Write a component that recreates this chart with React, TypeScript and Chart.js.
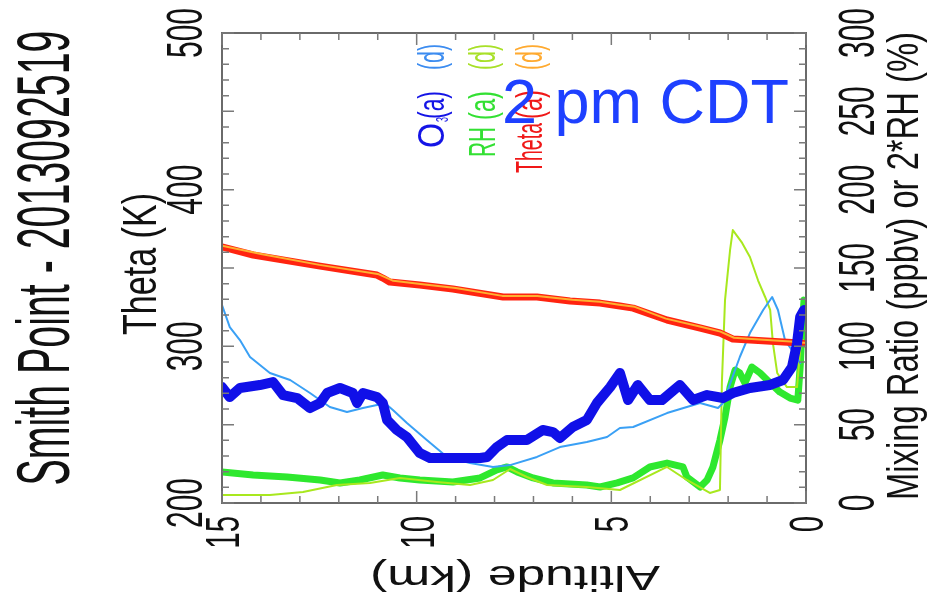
import React, { useEffect, useRef } from "react";
import { Chart, registerables } from "chart.js";

Chart.register(...registerables);

// ---- Data (altitude in km, values) ----
const THETA_A_ALT = [15, 14.2, 12.48, 11.02, 10.87, 10.69, 9.92, 9.07, 7.78, 6.91, 6.06, 5.29, 4.78, 4.44, 3.57, 2.72, 2.21, 1.88, 1.44, 0.15, 0];
const THETA_A_VAL = [363.4, 358.3, 351.2, 345.5, 343.6, 341.0, 339.1, 336.6, 331.5, 331.5, 328.9, 327.6, 325.7, 324.4, 316.8, 311.7, 308.5, 304.7, 304.0, 302.1, 301.5];

const THETA_D_ALT = [15, 14.0, 12.5, 11.0, 10.8, 10.6, 9.9, 9.0, 7.8, 6.9, 6.0, 5.3, 4.8, 4.4, 3.6, 2.7, 2.2, 1.85, 1.4, 0.2, 0];
const THETA_D_VAL = [364.2, 359.0, 352.0, 346.2, 344.0, 341.8, 339.8, 337.2, 332.2, 332.2, 329.7, 328.4, 326.5, 325.2, 317.7, 312.5, 309.4, 305.5, 304.7, 302.8, 302.2];

const O3_A_ALT = [15, 14.8, 14.54, 14.03, 13.69, 13.43, 13.07, 12.74, 12.48, 12.3, 11.97, 11.64, 11.53, 11.38, 11.02, 10.87, 10.76, 10.51, 10.25, 9.92, 9.66, 9.07, 8.37, 8.19, 7.94, 7.68, 7.17, 6.76, 6.5, 6.32, 5.99, 5.63, 5.37, 5.03, 4.78, 4.57, 4.32, 4.01, 3.7, 3.24, 2.9, 2.54, 2.13, 1.88, 1.44, 0.93, 0.59, 0.36, 0.23, 0.15, 0.05];
const O3_A_VAL = [74, 67.6, 73.4, 75.3, 77.2, 68.9, 67, 60.6, 63.8, 70.2, 73.4, 70.2, 63.8, 70.2, 67.6, 63.8, 53, 46.6, 42.1, 31.9, 28.7, 28.7, 28.7, 29.4, 35.7, 40.2, 40.2, 46.6, 45.3, 41.5, 48.5, 53, 63.8, 74, 83, 65.7, 75.3, 65.7, 65.7, 75.3, 65.7, 68.9, 67, 70.2, 73.4, 75.3, 78.5, 86.8, 102, 118.7, 123.2];

const O3_D_ALT = [15, 14.8, 14.54, 14.28, 13.77, 13.25, 12.74, 12.23, 11.79, 11.38, 11.02, 10.76, 10.61, 10.25, 9.74, 9.22, 8.63, 8.04, 7.6, 6.91, 6.32, 5.63, 5.11, 4.78, 4.44, 3.57, 2.72, 2.26, 2.13, 1.7, 1.44, 1.1, 0.87, 0.72, 0.54, 0.36, 0.15];
const O3_D_VAL = [126.4, 112.3, 104, 93.2, 83, 78.5, 70.2, 61.3, 58.1, 60.6, 62.5, 62.5, 59.3, 51.1, 40.2, 29.4, 25.5, 23, 24.2, 29.4, 35.7, 38.9, 42.1, 47.9, 48.5, 57.4, 63.8, 60.6, 63.8, 93.2, 108.5, 123.2, 131.5, 123.2, 104, 97.6, 89.3];

const RH_A_ALT = [15, 14.2, 13.33, 12.48, 11.97, 11.46, 10.87, 10.43, 9.92, 9.07, 8.37, 7.94, 7.68, 7.42, 7.01, 6.5, 5.63, 5.29, 4.85, 4.44, 4.01, 3.57, 3.16, 3.06, 2.72, 2.54, 2.39, 2.21, 2.08, 1.95, 1.82, 1.7, 1.57, 1.39, 1.18, 0.92, 0.67, 0.41, 0.21, 0.15, 0.1, 0.05];
const RH_A_VAL = [19.8, 17.9, 16.6, 14.7, 12.8, 14.7, 17.9, 16, 14.7, 13.4, 16, 21.1, 23, 19.8, 16, 12.8, 11.5, 10.2, 12.8, 16, 23, 25.5, 23, 16.6, 10.2, 14.7, 23, 40.2, 54.9, 74, 84.9, 83, 76.6, 86.8, 83, 76.6, 70.8, 67, 65.7, 86.8, 112.3, 129.5];

const RH_D_ALT = [15, 13.77, 12.92, 12.05, 11.2, 10.43, 9.48, 8.63, 8.04, 7.6, 7.17, 6.65, 5.63, 4.78, 3.57, 3.06, 2.47, 2.21, 2.16, 2.08, 2.03, 1.95, 1.88, 1.64, 1.44, 1.23, 1.05, 0.92, 0.85, 0.74, 0.49, 0.23, 0.15, 0.08];
const RH_D_VAL = [5.1, 5.1, 7, 11.5, 12.8, 16, 13.4, 11.5, 14.7, 21.7, 16.6, 11.5, 10.2, 8.3, 23, 14.7, 6.4, 8.3, 77, 129.5, 142, 161.5, 174.2, 166, 157, 142, 131.5, 123.2, 102, 83, 74, 74, 97.6, 104];

const ALT_TICKS = [15, 10, 5, 0];
const THETA_TICKS = [200, 300, 400, 500];
const MIX_TICKS = [0, 50, 100, 150, 200, 250, 300];

const TITLE = "Smith Point - 2013092519";
const THETA_TITLE = "Theta (K)";
const MIX_TITLE = "Mixing Ratio (ppbv) or 2*RH (%)";
const ALT_TITLE = "Altitude (km)";
const TIME_LABEL = "2 pm CDT";

const FONT = "'Liberation Sans', Arial, Helvetica, sans-serif";

function pts(xs: number[], ys: number[]) {
  return xs.map((x, i) => ({ x, y: ys[i] }));
}

function drawText(
  ctx: CanvasRenderingContext2D,
  s: string,
  x: number,
  y: number,
  angle: number,
  px: number,
  color: string,
  len: number | null,
  align: CanvasTextAlign = "center",
  sxFixed: number | null = null
) {
  ctx.save();
  ctx.font = `${px}px ${FONT}`;
  const w = ctx.measureText(s).width;
  const sx = sxFixed != null ? sxFixed : len != null ? len / w : 1;
  ctx.translate(x, y);
  ctx.rotate(angle);
  ctx.scale(sx, 1);
  ctx.fillStyle = color;
  ctx.textAlign = align;
  ctx.textBaseline = "alphabetic";
  ctx.fillText(s, 0, 0);
  ctx.restore();
}

const decorPlugin = {
  id: "decor",
  beforeDraw(chart: any) {
    const ctx = chart.ctx;
    ctx.save();
    ctx.fillStyle = "#ffffff";
    ctx.fillRect(0, 0, chart.width, chart.height);
    ctx.restore();
  },
  afterDraw(chart: any) {
    const ctx: CanvasRenderingContext2D = chart.ctx;
    const { left, right, top, bottom } = chart.chartArea;
    const xs = chart.scales.x;
    const ys = chart.scales.y;
    const y2 = chart.scales.y2;
    const UP = -Math.PI / 2;

    // frame
    ctx.save();
    ctx.strokeStyle = "#6a6a6a";
    ctx.lineWidth = 2;
    ctx.strokeRect(left, top, right - left, bottom - top);

    // ticks
    ctx.strokeStyle = "#7a7a7a";
    ctx.lineWidth = 1.5;
    for (let k = 0; k <= 15; k++) {
      const px = xs.getPixelForValue(k);
      const L = k % 5 === 0 ? 12 : 7;
      ctx.beginPath();
      ctx.moveTo(px, bottom);
      ctx.lineTo(px, bottom - L);
      ctx.moveTo(px, top);
      ctx.lineTo(px, top + L);
      ctx.stroke();
    }
    for (let v = 0; v <= 300; v += 10) {
      const py = y2.getPixelForValue(v);
      const L = v % 50 === 0 ? 12 : 7;
      ctx.beginPath();
      ctx.moveTo(left, py);
      ctx.lineTo(left + L, py);
      ctx.moveTo(right, py);
      ctx.lineTo(right - L, py);
      ctx.stroke();
    }
    ctx.restore();

    const numSx = 0.6;
    // left tick labels (theta)
    THETA_TICKS.forEach((t) => {
      drawText(ctx, String(t), 202, ys.getPixelForValue(t), UP, 50, "#111", null, "center", numSx);
    });
    // right tick labels (mixing ratio)
    MIX_TICKS.forEach((t) => {
      drawText(ctx, String(t), 874, y2.getPixelForValue(t), UP, 50, "#111", null, "center", numSx);
    });
    // bottom tick labels (altitude)
    ALT_TICKS.forEach((t) => {
      drawText(ctx, String(t), xs.getPixelForValue(t) + 17, 516, UP, 49, "#111", null, "right", numSx);
    });

    // axis titles
    drawText(ctx, THETA_TITLE, 156, 264, UP, 49, "#111", 142);
    drawText(ctx, MIX_TITLE, 918, 266, UP, 44, "#111", 468);
    drawText(ctx, ALT_TITLE, 515, 566, Math.PI, 35, "#111", 290);
    drawText(ctx, TITLE, 69, 258, UP, 74, "#111", 455);

    // legend columns (rotated)
    const legend: [string, string, number, number, number, number][] = [
      // text, color, baselineX, yBottom, yTop, px
      ["O", "#1414e6", 444, 148, 123, 37],
      ["(a)", "#1414e6", 444, 119, 91, 37],
      ["(d)", "#3c8cf0", 444, 70, 44, 37],
      ["RH", "#33e033", 495, 157, 127, 37],
      ["(a)", "#33e033", 495, 120, 91, 37],
      ["(d)", "#a8e028", 495, 70, 44, 37],
      ["Theta", "#f01818", 542, 173, 123, 37],
      ["(a)", "#f01818", 542, 119, 90, 37],
      ["(d)", "#ffaa30", 542, 70, 44, 37],
    ];
    legend.forEach(([s, c, bx, yb, yt, px]) => {
      drawText(ctx, s, bx, yb, UP, px, c, yb - yt, "left");
    });
    drawText(ctx, "3", 448, 122, UP, 16, "#1414e6", 5, "left");

    // time label
    ctx.save();
    ctx.font = `63px ${FONT}`;
    ctx.fillStyle = "#1e40ff";
    ctx.textAlign = "left";
    ctx.textBaseline = "alphabetic";
    ctx.fillText(TIME_LABEL, 502, 123);
    ctx.restore();
  },
};

export default function App() {
  const ref = useRef<HTMLCanvasElement>(null);
  useEffect(() => {
    if (!ref.current) return;
    const chart = new Chart(ref.current, {
      type: "line",
      data: {
        datasets: [
          { label: "O3 (a)", data: pts(O3_A_ALT, O3_A_VAL), yAxisID: "y2", borderColor: "#1010e8", borderWidth: 10, order: 1 },
          { label: "Theta (d)", data: pts(THETA_D_ALT, THETA_D_VAL), yAxisID: "y", borderColor: "#ffb030", borderWidth: 2, order: 2 },
          { label: "Theta (a)", data: pts(THETA_A_ALT, THETA_A_VAL), yAxisID: "y", borderColor: "#ff2410", borderWidth: 7, order: 3 },
          { label: "O3 (d)", data: pts(O3_D_ALT, O3_D_VAL), yAxisID: "y2", borderColor: "#3aa0f5", borderWidth: 2, order: 4 },
          { label: "RH (d)", data: pts(RH_D_ALT, RH_D_VAL), yAxisID: "y2", borderColor: "#a8e81e", borderWidth: 2, order: 5 },
          { label: "RH (a)", data: pts(RH_A_ALT, RH_A_VAL), yAxisID: "y2", borderColor: "#2ee82e", borderWidth: 7, order: 6 },
        ].map((d) => ({ ...d, pointRadius: 0, tension: 0, fill: false, borderJoinStyle: "round" as const, borderCapStyle: "round" as const })),
      },
      options: {
        responsive: false,
        animation: false,
        maintainAspectRatio: false,
        layout: { padding: { left: 222, right: 127, top: 33, bottom: 102 } },
        plugins: { legend: { display: false }, tooltip: { enabled: false } },
        scales: {
          x: { type: "linear", min: 0, max: 15, reverse: true, display: false },
          y: { type: "linear", min: 200, max: 500, display: false, position: "left" },
          y2: { type: "linear", min: 0, max: 300, display: false, position: "right" },
        },
      },
      plugins: [decorPlugin],
    });
    return () => chart.destroy();
  }, []);
  return (
    <div style={{ position: "fixed", left: 0, top: 0, width: 933, height: 605, background: "#fff" }}>
      <canvas ref={ref} width={933} height={605} style={{ display: "block" }} />
    </div>
  );
}
